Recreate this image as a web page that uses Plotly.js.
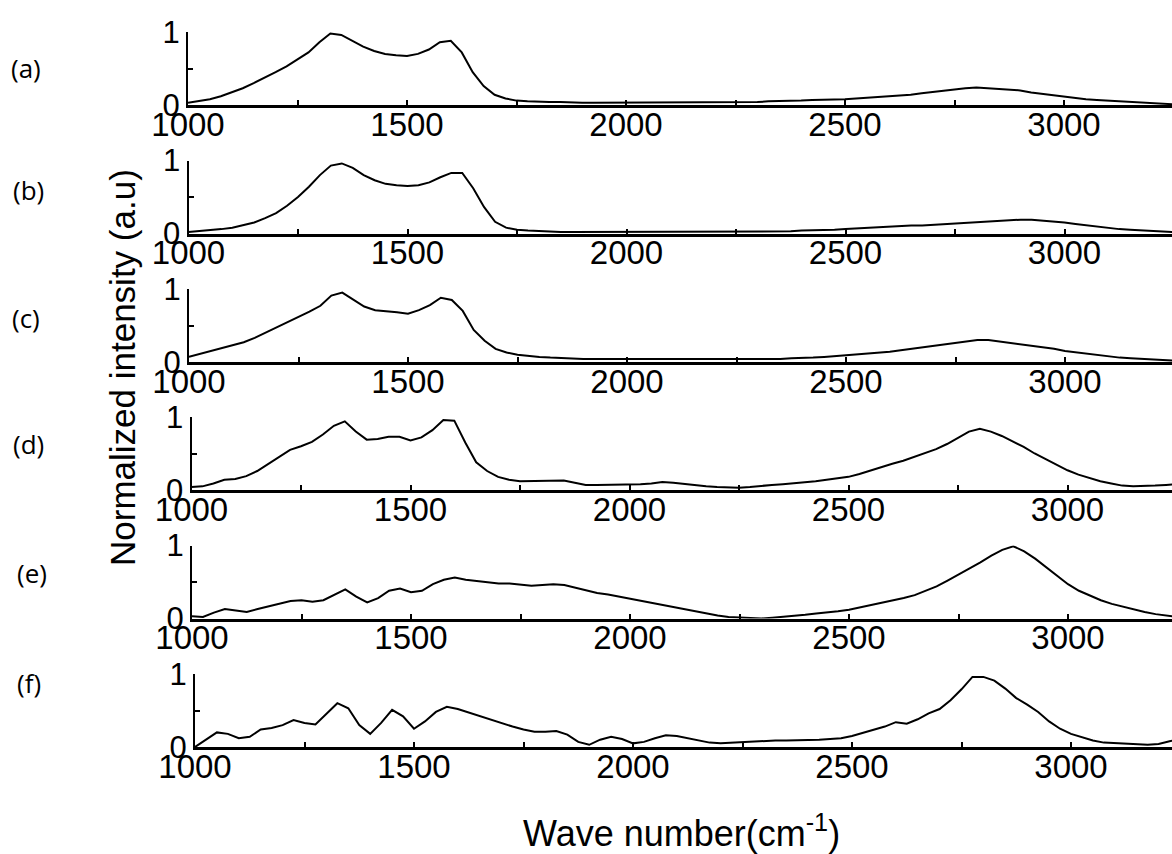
<!DOCTYPE html>
<html>
<head>
<meta charset="utf-8">
<script src="https://cdn.plot.ly/plotly-3.0.1.min.js"></script>
<style>html,body{margin:0;padding:0;background:#fff;}#chart{width:1172px;height:854px;}</style>
</head>
<body>
<div id="chart"></div>
<script>
// Wave numbers (cm-1), shared by all spectra
const waveNumbers = [
1000,1025,1050,1075,1100,1125,1150,1175,1200,1225,1250,1275,1300,1325,1350,1375,1400,1425,1450,1475,
1500,1525,1550,1575,1600,1625,1650,1675,1700,1725,1750,1775,1800,1825,1850,1875,1900,1925,1950,1975,
2000,2025,2050,2075,2100,2125,2150,2175,2200,2225,2250,2275,2300,2325,2350,2375,2400,2425,2450,2475,
2500,2525,2550,2575,2600,2625,2650,2675,2700,2725,2750,2775,2800,2825,2850,2875,2900,2925,2950,2975,
3000,3025,3050,3075,3100,3125,3150,3175,3200,3225,3250];

const panelLabels = ['(a)','(b)','(c)','(d)','(e)','(f)'];

const spectrumA = [
.03,.05,.08,.12,.17,.23,.30,.37,.45,.53,.62,.72,.86,.98,.96,.88,.80,.74,.70,.68,
.67,.70,.76,.86,.88,.72,.45,.26,.14,.09,.06,.05,.04,.04,.04,.03,.03,.03,.03,.03,
.03,.03,.03,.03,.03,.03,.03,.03,.03,.03,.04,.04,.04,.05,.05,.06,.06,.07,.07,.08,
.08,.09,.10,.11,.11,.13,.14,.16,.18,.20,.22,.23,.24,.23,.22,.21,.20,.17,.15,.13,
.11,.09,.08,.07,.06,.05,.04,.03,.02,.02,.01];

const spectrumB = [
.02,.03,.04,.06,.08,.11,.15,.21,.28,.38,.50,.64,.80,.93,.96,.90,.80,.73,.68,.66,
.65,.66,.70,.77,.83,.83,.62,.36,.16,.08,.05,.04,.03,.03,.02,.02,.02,.02,.02,.02,
.02,.02,.02,.02,.02,.02,.02,.02,.02,.02,.02,.02,.02,.03,.03,.03,.04,.04,.05,.05,
.06,.07,.08,.08,.09,.10,.11,.11,.12,.13,.14,.15,.16,.17,.18,.18,.19,.19,.18,.17,
.15,.13,.11,.09,.07,.06,.05,.04,.03,.02,.02];

const spectrumC = [
.07,.11,.15,.19,.23,.27,.33,.40,.47,.55,.62,.69,.77,.91,.95,.85,.76,.71,.70,.68,
.66,.71,.78,.88,.85,.70,.44,.29,.18,.13,.10,.08,.07,.06,.05,.05,.04,.04,.04,.04,
.03,.03,.03,.03,.03,.03,.03,.03,.03,.03,.03,.03,.03,.04,.04,.05,.05,.06,.07,.08,
.09,.10,.11,.12,.14,.16,.18,.20,.23,.25,.27,.29,.30,.30,.28,.27,.25,.23,.20,.18,
.15,.13,.11,.09,.07,.06,.05,.04,.03,.03,.02];

const spectrumD = [
.04,.05,.09,.14,.15,.19,.26,.36,.46,.55,.60,.66,.76,.88,.94,.80,.69,.70,.73,.73,
.68,.72,.82,.96,.95,.65,.38,.26,.18,.14,.12,.12,.12,.13,.13,.10,.07,.07,.07,.07,
.07,.08,.09,.11,.10,.08,.06,.05,.04,.03,.03,.04,.06,.07,.08,.09,.10,.12,.14,.16,
.18,.22,.27,.31,.36,.40,.45,.50,.56,.63,.72,.80,.84,.80,.74,.67,.59,.50,.42,.34,
.27,.21,.16,.12,.09,.06,.05,.05,.06,.07,.08];

const spectrumE = [
.03,.02,.08,.13,.11,.09,.13,.17,.20,.24,.25,.23,.25,.33,.40,.30,.22,.28,.38,.41,
.36,.38,.47,.53,.56,.53,.51,.50,.48,.48,.47,.45,.46,.47,.46,.42,.38,.35,.33,.30,
.27,.24,.21,.18,.15,.12,.09,.06,.04,.02,.01,.00,.00,.01,.02,.03,.05,.07,.08,.10,
.12,.15,.18,.21,.24,.28,.32,.38,.44,.52,.60,.69,.77,.86,.94,.99,.92,.82,.70,.58,
.47,.38,.31,.25,.20,.16,.12,.09,.06,.04,.02];

const spectrumF = [
.00,.10,.20,.18,.12,.14,.24,.26,.30,.37,.33,.31,.45,.60,.53,.30,.18,.33,.51,.42,
.25,.35,.48,.55,.52,.47,.43,.38,.33,.28,.24,.21,.21,.22,.17,.07,.03,.10,.14,.11,
.05,.07,.12,.16,.15,.12,.09,.06,.05,.06,.07,.08,.09,.09,.09,.09,.10,.10,.11,.12,
.15,.19,.23,.28,.34,.32,.38,.46,.52,.64,.79,.96,.96,.91,.80,.67,.58,.48,.35,.25,
.18,.13,.09,.06,.05,.04,.03,.03,.04,.08,.10];

const spectra = [spectrumA, spectrumB, spectrumC, spectrumD, spectrumE, spectrumF];

const xTickVals = [1000,1250,1500,1750,2000,2250,2500,2750,3000,3250];
const xTickText = ['1000','','1500','','2000','','2500','','3000',''];
const yTickVals = [0, 0.5, 1];
const yTickText = ['0', '', '1'];

const yTitle = 'Normalized intensity (a.u)';
const xTitle = 'Wave number(cm<sup>-1</sup>)';

// ---- layout (pixel geometry) ----
const W = 1172, H = 854;
const pxPerUnit = 0.438;
const axisLeft = [188, 188.5, 189, 191.5, 192, 195];
const baseY = [105, 233.5, 362, 490, 618.5, 747];
const panelH = 73;
const labelPos = [[26,68],[28,190],[26,318],[28,444],[32,573],[29,683]];

const font = 'Liberation Sans, Arial, sans-serif';
const traces = [];
const layout = {
  width: W, height: H,
  margin: {l:0, r:0, t:0, b:0},
  paper_bgcolor: '#fff', plot_bgcolor: 'rgba(0,0,0,0)',
  showlegend: false,
  annotations: []
};

for (let i = 0; i < 6; i++) {
  const sfx = i === 0 ? '' : String(i + 1);
  traces.push({
    x: waveNumbers, y: spectra[i], type: 'scatter', mode: 'lines',
    xaxis: 'x' + sfx, yaxis: 'y' + sfx,
    line: {color: '#000', width: 2}, hoverinfo: 'skip'
  });
  const x0 = axisLeft[i];
  layout['xaxis' + sfx] = {
    domain: [x0 / W, 1],
    range: [1000, 1000 + (W - x0) / pxPerUnit],
    anchor: 'y' + sfx,
    showgrid: false, zeroline: false,
    showline: true, linecolor: '#000', linewidth: 3,
    ticks: 'inside', ticklen: 5, tickwidth: 2, tickcolor: '#000',
    tickmode: 'array', tickvals: xTickVals, ticktext: xTickText,
    tickfont: {family: font, size: 33, color: '#000'},
    ticklabelstandoff: -12,
    fixedrange: true
  };
  layout['yaxis' + sfx] = {
    domain: [(H - baseY[i]) / H, (H - baseY[i] + panelH) / H],
    range: [0, 1],
    anchor: 'x' + sfx,
    showgrid: false, zeroline: false,
    showline: true, linecolor: '#000', linewidth: 2,
    ticks: 'inside', ticklen: 5, tickwidth: 2, tickcolor: '#000',
    tickmode: 'array', tickvals: yTickVals, ticktext: yTickText,
    tickfont: {family: font, size: 31, color: '#000'},
    ticklabelstandoff: 0,
    fixedrange: true
  };
  layout.annotations.push({
    text: panelLabels[i], xref: 'paper', yref: 'paper',
    x: labelPos[i][0] / W, y: 1 - labelPos[i][1] / H,
    xanchor: 'center', yanchor: 'middle', showarrow: false,
    font: {family: 'Open Sans, Noto Sans, sans-serif', size: 26, color: '#000'}
  });
}

layout.annotations.push({
  text: yTitle, xref: 'paper', yref: 'paper',
  x: 122 / W, y: 1 - 368 / H, textangle: -90,
  xanchor: 'center', yanchor: 'middle', showarrow: false,
  font: {family: font, size: 35, color: '#000'}
});
layout.annotations.push({
  text: xTitle, xref: 'paper', yref: 'paper',
  x: 681 / W, y: 1 - 831 / H,
  xanchor: 'center', yanchor: 'middle', showarrow: false,
  font: {family: font, size: 36, color: '#000'}
});

Plotly.newPlot('chart', traces, layout, {displayModeBar: false, staticPlot: true});
</script>
</body>
</html>
